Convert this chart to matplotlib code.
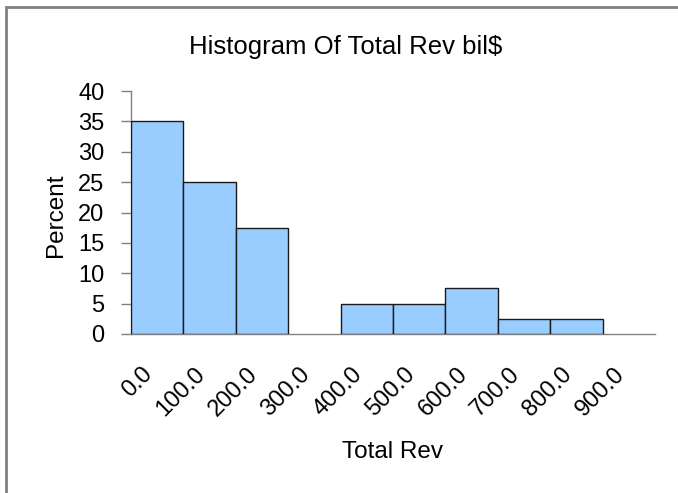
import matplotlib
matplotlib.use("Agg")
import matplotlib.pyplot as plt
from matplotlib.patches import Rectangle
import numpy as np

plt.rcParams['font.family'] = ['Liberation Sans', 'DejaVu Sans']

categories = ['0.0', '100.0', '200.0', '300.0', '400.0', '500.0', '600.0', '700.0', '800.0', '900.0']
percent = [35, 25, 17.5, 0, 5, 5, 7.5, 2.5, 2.5, 0]
yticks = [0, 5, 10, 15, 20, 25, 30, 35, 40]

W, H = 678, 493
fig = plt.figure(figsize=(W / 100, H / 100), dpi=100)
ax = fig.add_axes([131 / W, 1 - 334 / H, (655 - 131) / W, (334 - 91) / H])

x = np.arange(len(categories))
vals = np.array(percent, dtype=float)
mask = vals > 0
ax.bar(x[mask], vals[mask], width=1.0, color='#99CCFF', edgecolor='#1a1a1a', linewidth=1.0, zorder=3)

ax.set_xlim(-0.5, len(categories) - 0.5)
ax.set_ylim(0, 40)
ax.set_yticks(yticks)
ax.set_yticklabels([str(v) for v in yticks], fontsize=17)
ax.set_xticks(x)
ax.set_xticklabels(categories, rotation=45, ha='right', va='top', fontsize=17)
ax.tick_params(axis='x', length=0, pad=21)
ax.tick_params(axis='y', length=7, width=1, color='#808080', pad=12, direction='out')

for s in ['top', 'right']:
    ax.spines[s].set_visible(False)
for s in ['left', 'bottom']:
    ax.spines[s].set_color('#808080')
    ax.spines[s].set_linewidth(1.0)

ax.set_xlabel('Total Rev', fontsize=17.5, va='baseline', ha='center')
ax.xaxis.set_label_coords(0.5, (334 - 458) / 243)
ax.set_ylabel('Percent', fontsize=17.5, va='center', ha='center')
ax.yaxis.set_label_coords((56 - 131) / 524, (334 - 215) / 243)

fig.text(346 / W, 1 - 54 / H, 'Histogram Of Total Rev bil$', ha='center', va='baseline', fontsize=18.5)

border = Rectangle((6 / W, -0.1), 1.2, (1 - 7 / H) + 0.1, transform=fig.transFigure,
                   fill=False, edgecolor='#808080', linewidth=2.0, clip_on=False)
fig.patches.append(border)

fig.savefig('out.png', dpi=100)
